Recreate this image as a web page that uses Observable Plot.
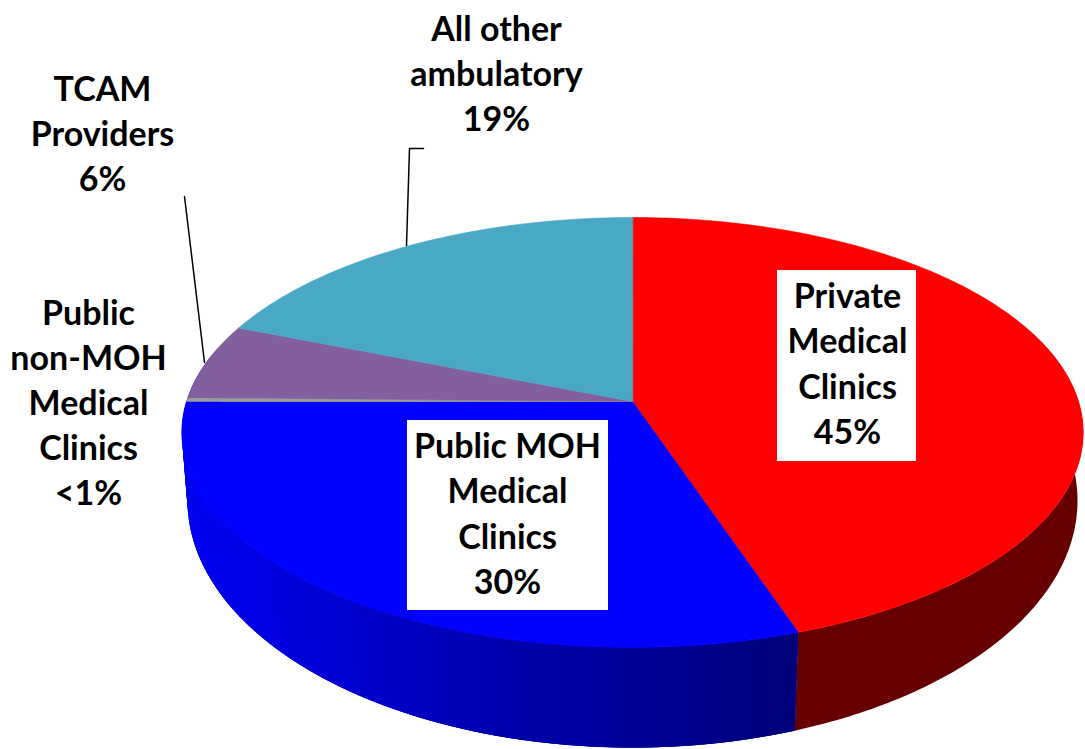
<!DOCTYPE html>
<html>
<head>
<meta charset="utf-8">
<script src="https://cdn.jsdelivr.net/npm/d3@7"></script>
<script src="https://cdn.jsdelivr.net/npm/@observablehq/plot@0.6"></script>
<style>html,body{margin:0;padding:0;background:#fff}svg{display:block}</style>
</head>
<body>
<div id="chart"></div>
<script>
// Data
const categories = ["Private Medical Clinics", "Public MOH Medical Clinics", "Public non-MOH Medical Clinics", "TCAM Providers", "All other ambulatory"];
const shares = [44.8, 30.2, 0.3, 5.7, 19];
const sharesText = ["45%", "30%", "<1%", "6%", "19%"];
const labelLines = ["Private\nMedical\nClinics", "Public MOH\nMedical\nClinics", "Public\nnon-MOH\nMedical\nClinics", "TCAM\nProviders", "All other\nambulatory"];

// Styles and layout (kept apart from the data)
const topColors = ["#ff0000", "#0000ff", "#9c9c98", "#82609e", "#49a9c5"];
const labelX = [847, 507, 88, 102, 496];
const labelY = [361, 511, 400, 131, 71];
const boxIndex = [0, 1];
const boxX1 = [777, 407], boxX2 = [916, 608], boxY1 = [270, 420], boxY2 = [461, 610];

// Perspective projection of the pie's rim
const rim = (a, b, k, y0) => t => {
  const u = Math.sin(t), v = -Math.cos(t), d = 1 - k * v;
  return [632 + a * u / d, y0 + b * v / d];
};
const upper = rim(446, 210.5, 0.144, 401);
const lower = rim(441, 242.6, 0.134, 467);
const rad = Math.PI / 180;

// Angle extents from cumulative shares
const total = d3.sum(shares);
let acc = 0;
const slices = shares.map((s, i) => {
  const start = acc / total * 2 * Math.PI; acc += s;
  return {i, start, end: acc / total * 2 * Math.PI};
});

const topRows = slices.flatMap(s => {
  const n = Math.max(2, Math.ceil((s.end - s.start) / rad));
  const pts = [{x: 632, y: 401}];
  for (let j = 0; j <= n; ++j) {
    const [x, y] = upper(s.start + (s.end - s.start) * j / n);
    pts.push({x, y});
  }
  return pts.map(p => ({...p, id: categories[s.i], color: topColors[s.i]}));
});

// Side wall: overlapping bands coloured along the rim, painted in order
const blueSide = d3.scaleLinear().domain([185, 300, 500, 790]).range(["#0000f2", "#0000d8", "#0000ae", "#00007a"]);
const sideRows = [];
{
  // red wall is one flat-coloured band
  const s = slices[0], n = 120, from = 70 * rad, to = s.end;
  const ts = d3.range(n + 1).map(j => from + (to - from) * j / n);
  for (const t of ts) { const [x, y] = upper(t); sideRows.push({x, y, id: "r", color: "#660000"}); }
  for (const t of ts.slice().reverse()) { const [x, y] = lower(t); sideRows.push({x, y, id: "r", color: "#660000"}); }
  // blue wall: painted from the far left towards the seam so each band overlaps the next
  const b = slices[1], m = 110, bf = b.end + 15 * rad, bt = b.start;
  for (let j = 0; j < m; ++j) {
    const t0 = bf + (bt - bf) * j / m, t1 = bf + (bt - bf) * Math.min(m, j + 3) / m;
    const color = blueSide(upper(t0)[0]);
    for (const [x, y] of [upper(t0), upper(t1), lower(t1), lower(t0)]) {
      sideRows.push({x, y, id: `b${j}`, color});
    }
  }
}

const labels = categories.map((c, i) => ({
  text: `${labelLines[i]}\n${sharesText[i]}`, x: labelX[i], y: labelY[i]
}));
const boxes = boxIndex.map(i => ({x1: boxX1[i], x2: boxX2[i], y1: boxY1[i], y2: boxY2[i]}));
const leaderRows = [
  {id: "tcam", x: 184, y: 196}, {id: "tcam", x: 204, y: 362},
  {id: "other", x: 406, y: 245}, {id: "other", x: 409, y: 148}, {id: "other", x: 423, y: 148}
];

const chart = Plot.plot({
  width: 1085,
  height: 749,
  margin: 0,
  x: {domain: [0, 1085], range: [0, 1085], axis: null},
  y: {domain: [0, 749], range: [0, 749], axis: null},
  style: {background: "#fff"},
  marks: [
    Plot.line(sideRows, {x: "x", y: "y", z: "id", fill: "color", stroke: "none", curve: "linear-closed"}),
    Plot.line(topRows, {x: "x", y: "y", z: "id", fill: "color", stroke: "color", strokeWidth: 0.6, curve: "linear-closed"}),
    Plot.line(leaderRows, {x: "x", y: "y", z: "id", stroke: "#000", strokeWidth: 1.5}),
    Plot.rect(boxes, {x1: "x1", x2: "x2", y1: "y1", y2: "y2", fill: "#fff"}),
    Plot.text(labels, {x: "x", y: "y", text: "text", fill: "#000", fontFamily: "Lato", fontWeight: 700, fontSize: 34, lineHeight: 1.33, textAnchor: "middle", lineAnchor: "middle"})
  ]
});
document.getElementById("chart").append(chart);
</script>
</body>
</html>
